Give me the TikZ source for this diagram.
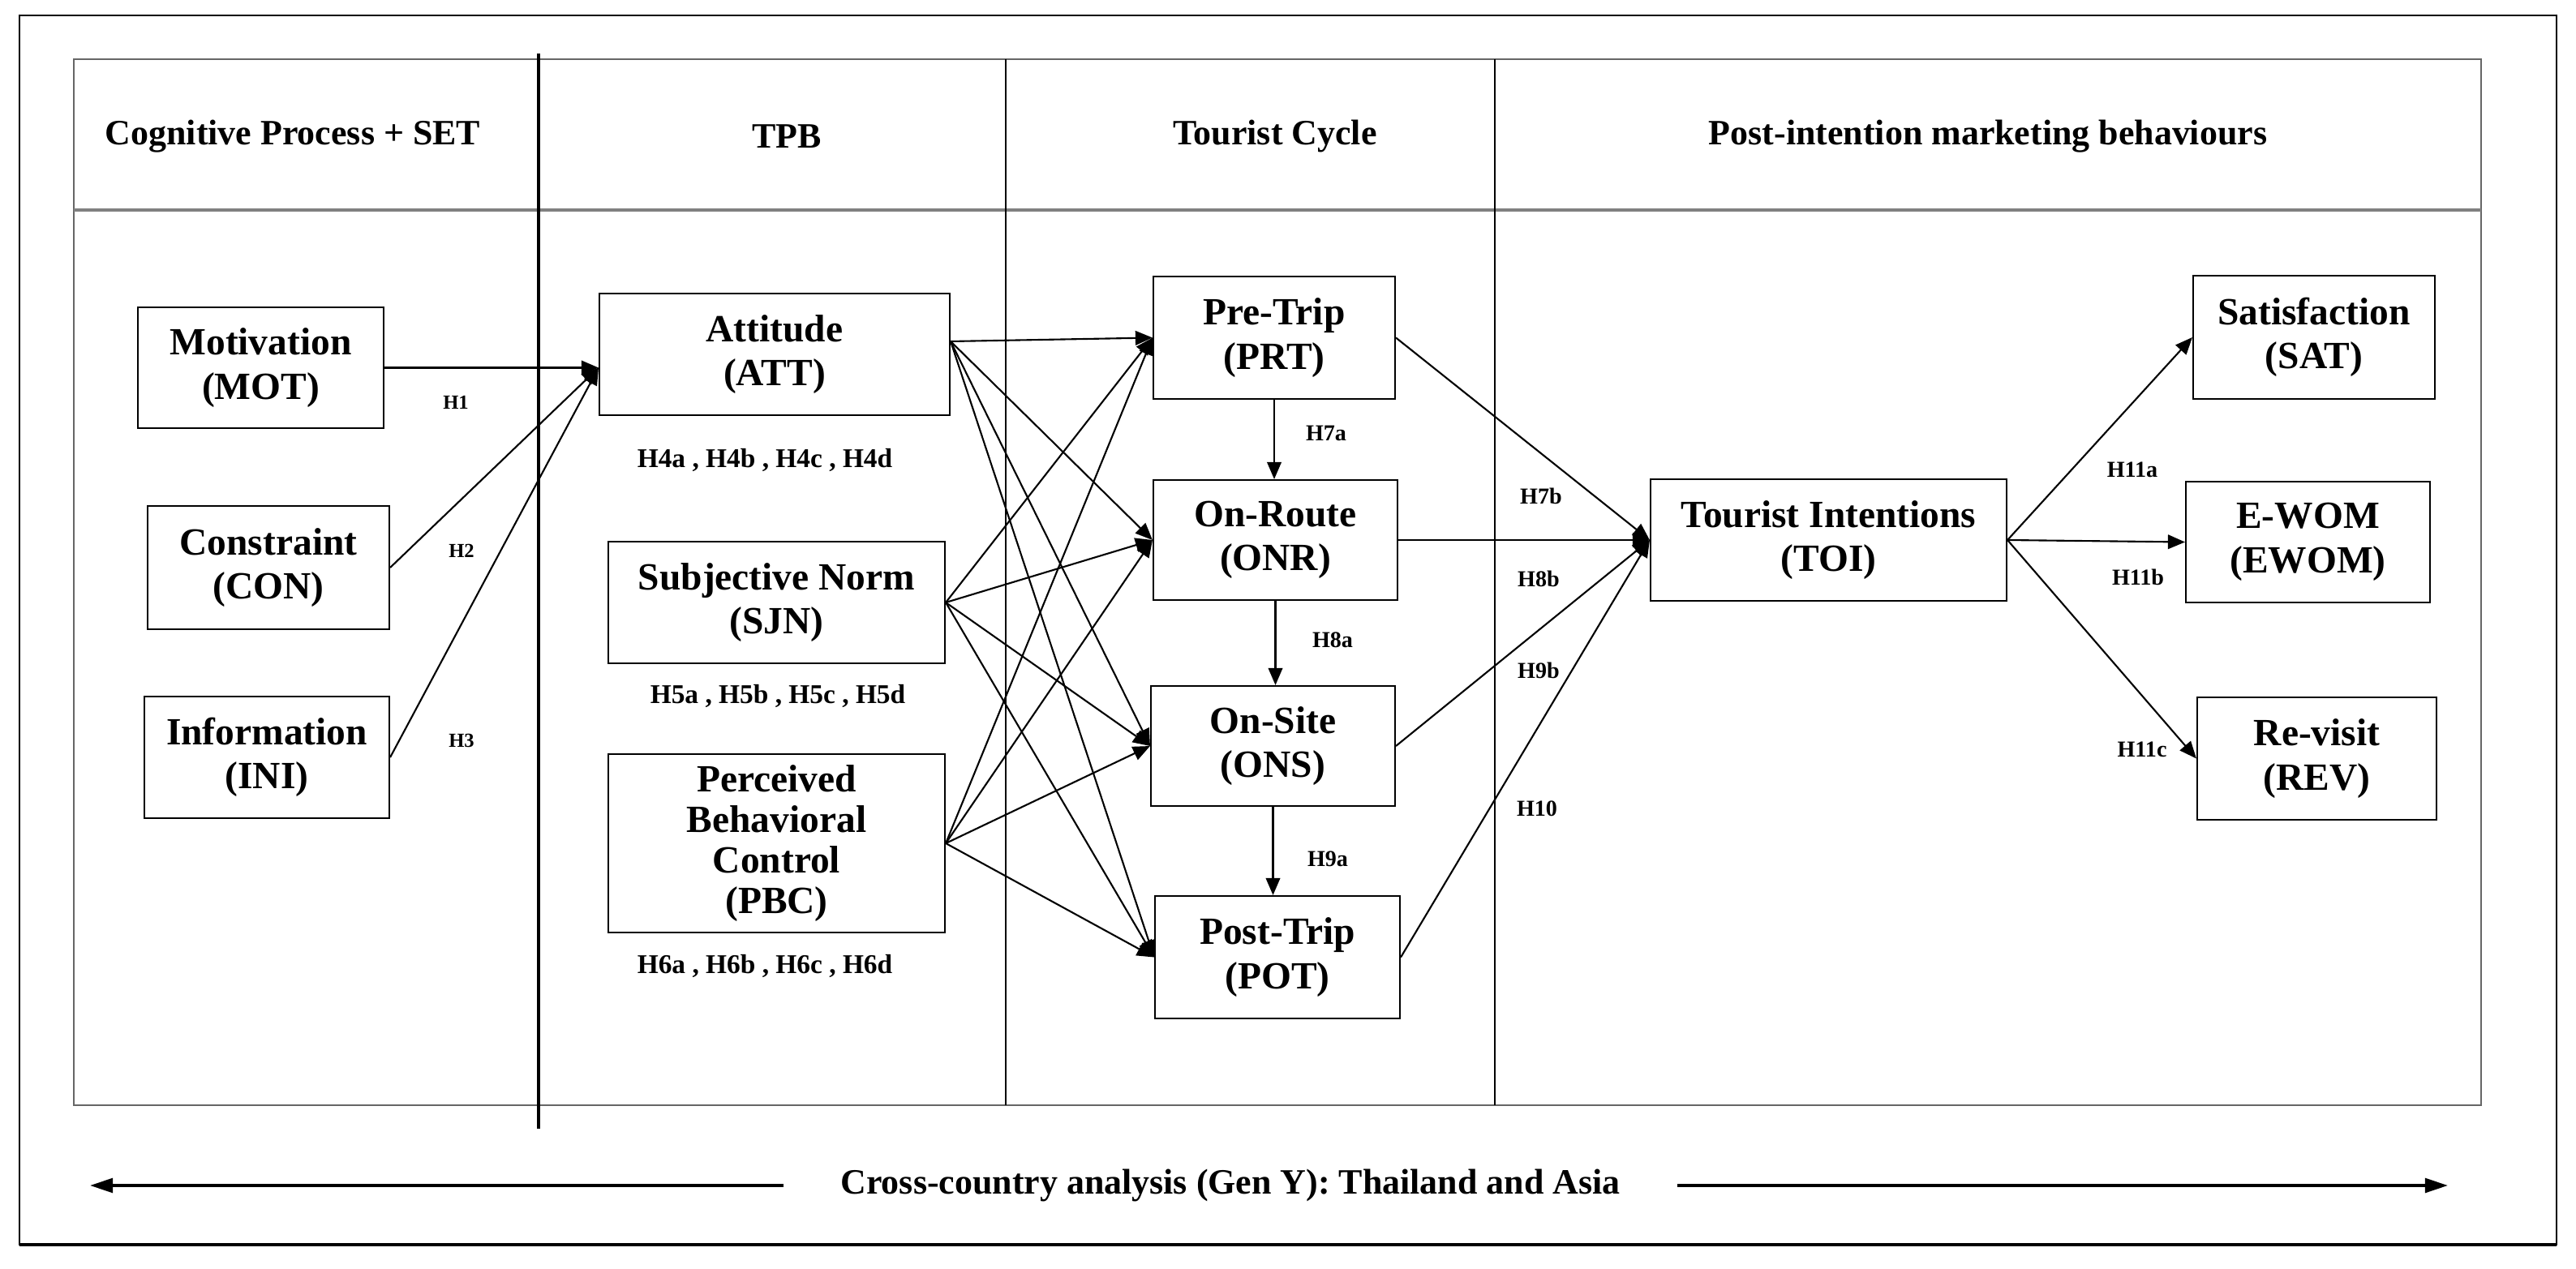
\documentclass[tikz,border=0pt]{standalone}
\usepackage{fontspec}
\setmainfont{Liberation Serif}
\usetikzlibrary{arrows.meta}
\tikzset{
  box/.style={draw,line width=0.6pt,align=center,inner sep=1pt,
    font=\fontsize{13.5}{15.5}\selectfont\bfseries},
  head/.style={font=\fontsize{12.5}{14}\selectfont\bfseries},
  hyp/.style={font=\fontsize{8}{9}\selectfont\bfseries},
  hypsm/.style={font=\fontsize{7}{8}\selectfont\bfseries},
  hypgrp/.style={font=\fontsize{9.5}{11}\selectfont\bfseries},
  link/.style={-{Triangle[length=6pt,width=5pt]},line width=0.6pt},
  longarrow/.style={-{Triangle[length=8pt,width=5pt]},line width=1.1pt}
}
\begin{document}
\begin{tikzpicture}
        \useasboundingbox (0,0) rectangle (31.76,-15.65);
        \draw[line width=0.6pt] (0.24,-0.19) rectangle (31.52,-15.35);
        \draw[line width=1.2pt] (0.24,-15.35) -- (31.52,-15.35);
        \draw[black!60,line width=0.6pt] (0.91,-0.73) rectangle (30.59,-13.63);
        \draw[black!50,line width=1.1pt] (0.91,-2.59) -- (30.59,-2.59);
        \draw[line width=1pt] (6.64,-0.66) -- (6.64,-13.92);
        \draw[line width=0.5pt] (12.40,-0.73) -- (12.40,-13.63);
        \draw[line width=0.5pt] (18.43,-0.73) -- (18.43,-13.63);
        \node[head] (hcog)  at (3.61,-1.68)  {Cognitive Process + SET};
        \node[head] (htpb)  at (9.70,-1.68)  {TPB};
        \node[head] (hcyc)  at (15.72,-1.68) {Tourist Cycle};
        \node[head] (hpost) at (24.51,-1.68) {Post-intention marketing behaviours};
        \node[box,minimum width=3.03cm,minimum height=1.49cm] (MOT) at (3.215,-4.535) {Motivation\\(MOT)};
        \node[box,minimum width=2.98cm,minimum height=1.52cm] (CON) at (3.31,-7.00)  {Constraint\\(CON)};
        \node[box,minimum width=3.02cm,minimum height=1.50cm] (INI) at (3.29,-9.34)  {Information\\(INI)};
        \node[box,minimum width=4.32cm,minimum height=1.50cm] (ATT) at (9.55,-4.37)  {Attitude\\(ATT)};
        \node[box,minimum width=4.15cm,minimum height=1.50cm] (SJN) at (9.575,-7.43) {Subjective Norm\\(SJN)};
        \node[box,minimum width=4.15cm,minimum height=2.20cm,
          font=\fontsize{13.5}{14.3}\selectfont\bfseries] (PBC) at (9.575,-10.40) {Perceived\\Behavioral\\Control\\(PBC)};
        \node[box,minimum width=2.98cm,minimum height=1.51cm] (PRT) at (15.71,-4.165) {Pre-Trip\\(PRT)};
        \node[box,minimum width=3.01cm,minimum height=1.48cm] (ONR) at (15.725,-6.66) {On-Route\\(ONR)};
        \node[box,minimum width=3.01cm,minimum height=1.48cm] (ONS) at (15.695,-9.20) {On-Site\\(ONS)};
        \node[box,minimum width=3.02cm,minimum height=1.51cm] (POT) at (15.75,-11.805) {Post-Trip\\(POT)};
        \node[box,minimum width=4.39cm,minimum height=1.50cm] (TOI) at (22.545,-6.66) {Tourist Intentions\\(TOI)};
        \node[box,minimum width=2.98cm,minimum height=1.52cm] (SAT) at (28.53,-4.16)  {Satisfaction\\(SAT)};
        \node[box,minimum width=3.01cm,minimum height=1.49cm] (EWOM) at (28.455,-6.685) {E-WOM\\(EWOM)};
        \node[box,minimum width=2.95cm,minimum height=1.51cm] (REV) at (28.565,-9.355) {Re-visit\\(REV)};
        \coordinate (attin) at (MOT.east -| ATT.west);
        \coordinate (attout) at ([yshift=0.16cm]ATT.east);
        \draw[link] (MOT.east) -- (attin);
        \draw[link] (CON.east) -- (attin);
        \draw[link] (INI.east) -- (attin);
        \draw[link] (attout) -- (PRT.west);
        \draw[link] (attout) -- (ONR.west);
        \draw[link] (attout) -- (ONS.west);
        \draw[link] (attout) -- (POT.west);
        \draw[link] (SJN.east) -- (PRT.west);
        \draw[link] (SJN.east) -- (ONR.west);
        \draw[link] (SJN.east) -- (ONS.west);
        \draw[link] (SJN.east) -- (POT.west);
        \draw[link] (PBC.east) -- (PRT.west);
        \draw[link] (PBC.east) -- (ONR.west);
        \draw[link] (PBC.east) -- (ONS.west);
        \draw[link] (PBC.east) -- (POT.west);
        \draw[link] (PRT.south) -- (PRT.south |- ONR.north);
        \draw[link] (ONR.south) -- (ONR.south |- ONS.north);
        \draw[link] (ONS.south) -- (ONS.south |- POT.north);
        \draw[link] (PRT.east) -- (TOI.west);
        \draw[link] (ONR.east) -- (TOI.west);
        \draw[link] (ONS.east) -- (TOI.west);
        \draw[link] (POT.east) -- (TOI.west);
        \draw[link] (TOI.east) -- (SAT.west);
        \draw[link] (TOI.east) -- (EWOM.west);
        \draw[link] (TOI.east) -- (REV.west);
        \node[hypsm] (h1) at (5.62,-4.96) {H1};
        \node[hypsm] (h2) at (5.69,-6.79) {H2};
        \node[hypsm] (h3) at (5.69,-9.13) {H3};
        \node[hypgrp] (h4) at (9.43,-5.67)  {H4a ,  H4b , H4c ,  H4d};
        \node[hypgrp] (h5) at (9.59,-8.58)  {H5a ,  H5b , H5c ,  H5d};
        \node[hypgrp] (h6) at (9.43,-11.91) {H6a ,  H6b , H6c ,  H6d};
        \node[hyp] (h7a) at (16.35,-5.34) {H7a};
        \node[hyp] (h8a) at (16.43,-7.89) {H8a};
        \node[hyp] (h9a) at (16.37,-10.59) {H9a};
        \node[hyp] (h7b) at (19.00,-6.12) {H7b};
        \node[hyp] (h8b) at (18.97,-7.14) {H8b};
        \node[hyp] (h9b) at (18.97,-8.27) {H9b};
        \node[hyp] (h10) at (18.95,-9.97) {H10};
        \node[hyp] (h11a) at (26.29,-5.79) {H11a};
        \node[hyp] (h11b) at (26.36,-7.12) {H11b};
        \node[hyp] (h11c) at (26.41,-9.24) {H11c};
        \node[head,inner xsep=0.7cm] (cross) at (15.17,-14.62) {Cross-country analysis (Gen Y): Thailand and Asia};
        \coordinate (crossL) at (1.11,-14.62);
        \coordinate (crossR) at (30.18,-14.62);
        \draw[longarrow] (cross.west) -- (crossL);
        \draw[longarrow] (cross.east) -- (crossR);
\end{tikzpicture}
\end{document}
